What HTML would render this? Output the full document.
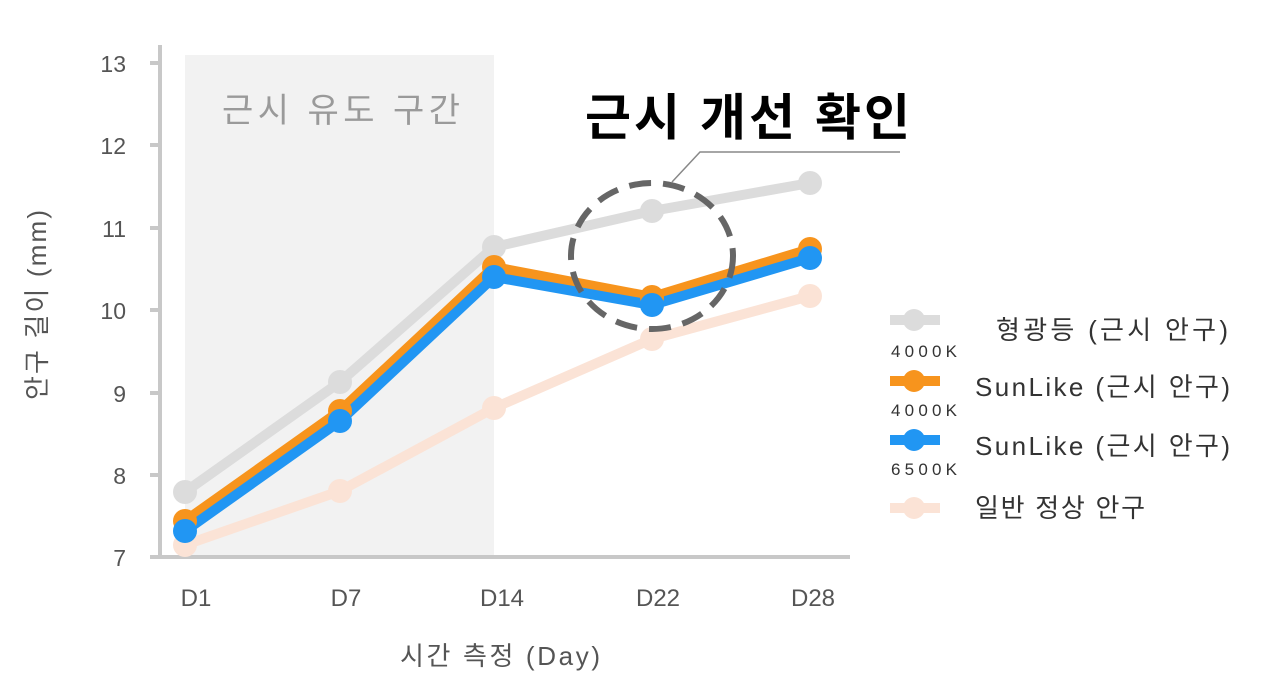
<!DOCTYPE html>
<html><head><meta charset="utf-8"><style>
body{margin:0;background:#fff}
text{font-family:"Liberation Sans","Noto Sans CJK KR",sans-serif}
</style></head><body>
<svg width="1280" height="676" viewBox="0 0 1280 676" xmlns="http://www.w3.org/2000/svg">
<rect x="185" y="55" width="309" height="502" fill="#f2f2f2"/>
<text x="222" y="122" font-size="34" fill="#9a9a9a" textLength="238">근시 유도 구간</text>
<g stroke="#c8c8c8" stroke-width="4" fill="none">
<line x1="160" y1="45" x2="160" y2="559"/>
<line x1="150" y1="557" x2="850" y2="557"/>
<line x1="150" y1="63" x2="160" y2="63"/><line x1="150" y1="145" x2="160" y2="145"/>
<line x1="150" y1="228" x2="160" y2="228"/><line x1="150" y1="310" x2="160" y2="310"/>
<line x1="150" y1="393" x2="160" y2="393"/><line x1="150" y1="475" x2="160" y2="475"/>
</g>
<g font-size="23" fill="#555" text-anchor="end">
<text x="126" y="72">13</text><text x="126" y="154">12</text><text x="126" y="237">11</text>
<text x="126" y="319">10</text><text x="126" y="402">9</text><text x="126" y="484">8</text><text x="126" y="566">7</text>
</g>
<g font-size="24" fill="#555" text-anchor="middle">
<text x="196" y="606">D1</text><text x="346" y="606">D7</text><text x="502" y="606">D14</text>
<text x="658" y="606">D22</text><text x="813" y="606">D28</text>
</g>
<text x="400" y="665" font-size="26" fill="#555" textLength="200">시간 측정 (Day)</text>
<text transform="translate(46,400) rotate(-90)" font-size="26" fill="#555" textLength="190">안구 길이 (mm)</text>
<g fill="none" stroke-width="10" stroke-linejoin="round">
<polyline stroke="#fbe3d6" points="185,545 340,491 494,408 652,339 810,296"/>
<polyline stroke="#dcdcdc" points="185,492 340,382 494,247 652,211 810,183"/>
<polyline stroke="#f7941d" points="185,521 340,411 494,267 652,297 810,249"/>
<polyline stroke="#2196f3" points="185,531 340,421 494,277 652,305 810,258"/>
</g>
<g fill="#fbe3d6"><circle cx="185" cy="545" r="12"/><circle cx="340" cy="491" r="12"/><circle cx="494" cy="408" r="12"/><circle cx="652" cy="339" r="12"/><circle cx="810" cy="296" r="12"/></g>
<g fill="#dcdcdc"><circle cx="185" cy="492" r="12"/><circle cx="340" cy="382" r="12"/><circle cx="494" cy="247" r="12"/><circle cx="652" cy="211" r="12"/><circle cx="810" cy="183" r="12"/></g>
<g fill="#f7941d"><circle cx="185" cy="521" r="12"/><circle cx="340" cy="411" r="12"/><circle cx="494" cy="267" r="12"/><circle cx="652" cy="297" r="12"/><circle cx="810" cy="249" r="12"/></g>
<g fill="#2196f3"><circle cx="185" cy="531" r="12"/><circle cx="340" cy="421" r="12"/><circle cx="494" cy="277" r="12"/><circle cx="652" cy="305" r="12"/><circle cx="810" cy="258" r="12"/></g>
<ellipse cx="652" cy="256" rx="81" ry="73" fill="none" stroke="#666" stroke-width="6" stroke-dasharray="22 12"/>
<polyline points="672,182 700,152 900,152" fill="none" stroke="#888" stroke-width="1.5"/>
<text x="585" y="135" font-size="50" font-weight="bold" fill="#000" textLength="325">근시 개선 확인</text>
<g stroke-width="10">
<line x1="890" y1="320" x2="940" y2="320" stroke="#dcdcdc"/>
<line x1="890" y1="381" x2="940" y2="381" stroke="#f7941d"/>
<line x1="890" y1="440" x2="940" y2="440" stroke="#2196f3"/>
<line x1="890" y1="508" x2="940" y2="508" stroke="#fbe3d6"/>
</g>
<circle cx="914" cy="320" r="11" fill="#dcdcdc"/><circle cx="914" cy="381" r="11" fill="#f7941d"/>
<circle cx="914" cy="440" r="11" fill="#2196f3"/><circle cx="914" cy="508" r="11" fill="#fbe3d6"/>
<g font-size="17" fill="#333"><text x="891" y="357" textLength="66">4000K</text><text x="891" y="416" textLength="66">4000K</text><text x="891" y="475" textLength="66">6500K</text></g>
<g font-size="26" fill="#333">
<text x="996" y="339" textLength="232">형광등   (근시 안구)</text>
<text x="975" y="396" textLength="255">SunLike (근시 안구)</text>
<text x="975" y="455" textLength="255">SunLike (근시 안구)</text>
<text x="975" y="517" textLength="170">일반 정상 안구</text>
</g>
</svg>
</body></html>
